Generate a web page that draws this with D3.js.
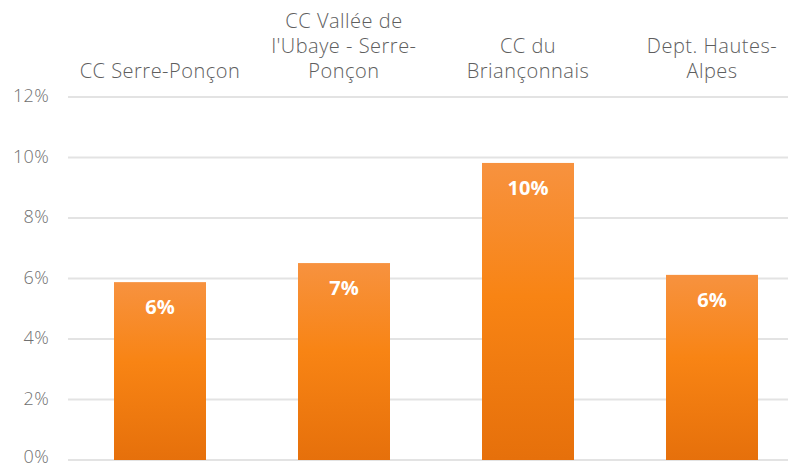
<!DOCTYPE html>
<html>
<head>
<meta charset="utf-8">
<script src="https://cdn.jsdelivr.net/npm/d3@7"></script>
<style>
  html, body { margin: 0; padding: 0; background: #fff; }
  svg { display: block; }
  text { font-family: "Open Sans", Lato, sans-serif; }
</style>
</head>
<body>
<svg id="chart" width="788" height="467"></svg>
<script>
// Share of each territory (percent)
const categories = [
  ["CC Serre-Ponçon"],
  ["CC Vallée de", "l'Ubaye - Serre-", "Ponçon"],
  ["CC du", "Briançonnais"],
  ["Dept. Hautes-", "Alpes"]
];
const values = [5.88, 6.51, 9.82, 6.12];
const tickValues = [0, 2, 4, 6, 8, 10, 12];

const svg = d3.select("#chart");
const W = 788, H = 467;
const plotLeft = 68, plotRight = 804, plotTop = 97, plotBottom = 460;

const x = d3.scaleBand()
  .domain(d3.range(categories.length))
  .range([plotLeft, plotRight])
  .paddingInner(0.5)
  .paddingOuter(0.25);

const y = d3.scaleLinear().domain([0, 12]).range([plotBottom, plotTop]);

// bar gradient
const defs = svg.append("defs");
const grad = defs.append("linearGradient")
  .attr("id", "barGrad").attr("x1", 0).attr("y1", 0).attr("x2", 0).attr("y2", 1);
grad.append("stop").attr("offset", "0%").attr("stop-color", "#f7923f");
grad.append("stop").attr("offset", "45%").attr("stop-color", "#f88414");
grad.append("stop").attr("offset", "100%").attr("stop-color", "#e6700b");

// gridlines
svg.append("g")
  .selectAll("line")
  .data(tickValues)
  .join("line")
  .attr("x1", plotLeft).attr("x2", W)
  .attr("y1", d => y(d)).attr("y2", d => y(d))
  .attr("stroke", "#e3e3e3")
  .attr("stroke-width", 2);

// y axis labels
const yAxis = d3.axisLeft(y)
  .tickValues(tickValues)
  .tickFormat(d => d + "%")
  .tickSize(0)
  .tickPadding(0);
const ya = svg.append("g").attr("transform", `translate(49,0)`).call(yAxis);
ya.select(".domain").remove();
ya.selectAll("text")
  .attr("fill", "#707070")
  .attr("dy", d => d === 0 ? "0.14em" : "0.26em")
  .style("font-size", "18px")
  .style("letter-spacing", "0.3px")
  .style("font-weight", "300")
  .style("font-family", "'Open Sans', Lato, sans-serif");

// bars
svg.append("g")
  .selectAll("rect")
  .data(values)
  .join("rect")
  .attr("x", (d, i) => x(i))
  .attr("width", x.bandwidth())
  .attr("y", d => y(d))
  .attr("height", d => y(0) - y(d))
  .attr("fill", "url(#barGrad)");

// value labels
svg.append("g")
  .selectAll("text")
  .data(values)
  .join("text")
  .attr("x", (d, i) => x(i) + x.bandwidth() / 2)
  .attr("y", d => y(d) + 32)
  .attr("text-anchor", "middle")
  .attr("fill", "#ffffff")
  .style("font-size", "20px")
  .style("font-weight", "bold")
  .text(d => Math.round(d) + "%");

// category labels above the plot, bottom lines aligned
const lineH = 25;
const cat = svg.append("g")
  .selectAll("text")
  .data(categories)
  .join("text")
  .attr("text-anchor", "middle")
  .attr("fill", "#5e5e5e")
  .style("font-size", "20px")
  .style("letter-spacing", "0.5px")
  .style("font-weight", "300");
cat.each(function(lines, i) {
  const t = d3.select(this);
  const cx = x(i) + x.bandwidth() / 2;
  lines.forEach((ln, j) => {
    t.append("tspan")
      .attr("x", cx)
      .attr("y", 78 - (lines.length - 1 - j) * lineH)
      .text(ln);
  });
});
</script>
</body>
</html>
